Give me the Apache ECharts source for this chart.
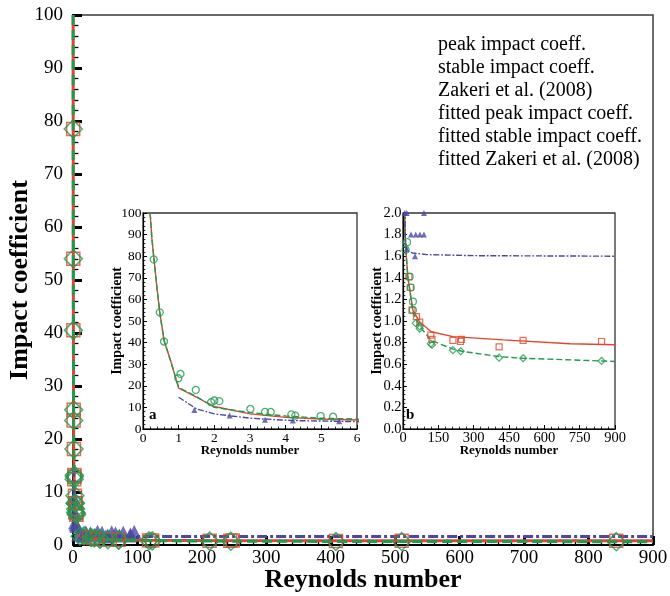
<!DOCTYPE html>
<html>
<head>
<meta charset="utf-8">
<script src="https://cdn.jsdelivr.net/npm/echarts@6/dist/echarts.min.js"></script>
<style>
  html, body { margin: 0; padding: 0; background: #fff; }
  #chart { width: 670px; height: 596px; }
</style>
</head>
<body>
<div id="chart"></div>
<script>
// low Reynolds number measurements (peak and stable coincide here)
var lowRe = [0.3, 0.47, 0.59, 0.99, 1.05, 1.48, 1.91, 2.0, 2.14, 3.01, 3.42, 3.58, 4.16, 4.27, 4.98, 5.33];
var lowCoeff = [78.5, 54, 40.5, 23.5, 25.5, 18.1, 12.4, 13.2, 12.9, 9.3, 7.9, 7.9, 6.8, 6.2, 6.0, 5.7];

var peakRe = [25, 31, 38, 57, 71, 118, 123, 212, 244, 248, 408, 510, 843];
var peakCoeff = [1.41, 1.31, 1.10, 1.04, 0.99, 0.87, 0.83, 0.82, 0.81, 0.83, 0.76, 0.82, 0.81];

var stableRe = [11, 17, 28, 33, 42, 42, 54, 71, 71, 118, 123, 212, 245, 408, 510, 843];
var stableCoeff = [1.66, 1.73, 1.41, 1.31, 1.18, 1.10, 0.98, 0.95, 0.93, 0.79, 0.78, 0.73, 0.72, 0.66, 0.655, 0.63];

var zakRe = [1.44, 2.43, 3.42, 4.2, 5.5, 8, 16, 89, 34, 54, 72, 89, 51, 16,
  20, 27, 38, 45, 60, 66, 78, 95];
var zakCoeff = [8.8, 6.2, 4.3, 3.9, 3.6, 2.0, 2.0, 2.0, 1.8, 1.8, 1.8, 1.8, 1.6, 1.67,
  2.4, 2.2, 2.5, 2.3, 2.4, 2.2, 2.3, 2.5];

var peakFitRe = [0.2, 0.25, 0.3, 0.4, 0.47, 0.59, 0.77, 1.0, 1.5, 2.0, 3.0, 4.0, 5.0, 6.0, 7, 8.5, 14, 21, 28, 42, 71, 120, 212, 425, 709, 900];
var peakFitVal = [100, 88, 80, 64, 54, 41, 31.8, 18.9, 14.7, 10.4, 7.0, 5.4, 4.6, 4.2, 2.0, 1.81, 1.6, 1.4, 1.3, 1.1, 0.99, 0.90, 0.855, 0.825, 0.79, 0.78];

var stableFitRe = [0.2, 0.25, 0.3, 0.4, 0.47, 0.59, 0.77, 1.0, 1.5, 2.0, 3.0, 4.0, 5.0, 6.0, 7, 8.5, 14, 21, 28, 42, 71, 120, 212, 250, 408, 510, 843, 900];
var stableFitVal = [100, 88, 80, 64, 54, 41, 31.8, 19.2, 15.0, 10.0, 7.6, 6.0, 5.0, 4.6, 2.0, 1.81, 1.6, 1.4, 1.3, 1.08, 0.95, 0.82, 0.74, 0.72, 0.67, 0.655, 0.63, 0.625];

var zakFitRe = [1.0, 1.5, 2.0, 3.0, 4.2, 6.0, 8, 10, 17, 40, 100, 300, 900];
var zakFitVal = [14.7, 9.3, 7.0, 5.0, 3.9, 3.4, 2.0, 1.75, 1.65, 1.63, 1.615, 1.605, 1.60];

var legendNames = ['peak impact coeff.', 'stable impact coeff.', 'Zakeri et al. (2008)',
  'fitted peak impact coeff.', 'fitted stable impact coeff.', 'fitted Zakeri et al. (2008)'];

var RED = '#e0462c';
var GREEN = '#1f9a50';
var BLUE = '#4a48a2';
var FONT = 'Liberation Serif';

function pairs(xs, ys) {
  return xs.map(function (x, i) { return [x, ys[i]]; });
}

var chartDom = document.getElementById('chart');
var myChart = echarts.init(chartDom);

function axisBase(grid, min, max, interval, fontSize, margin, tickLen, tickW, name, nameSize, nameGap) {
  return {
    type: 'value',
    gridIndex: grid,
    min: min,
    max: max,
    interval: interval,
    splitLine: { show: false },
    axisLine: { show: true, onZero: false, lineStyle: { color: '#000', width: tickW > 2 ? 2 : 1.2 } },
    axisTick: { show: true, inside: true, length: tickLen, lineStyle: { color: '#000', width: tickW } },
    minorTick: { show: true, splitNumber: 5, length: tickLen * 0.6, lineStyle: { color: '#000', width: tickW > 2 ? 1.3 : 0.8 } },
    axisLabel: { color: '#000', fontFamily: FONT, fontSize: fontSize, margin: margin, hideOverlap: false },
    name: name,
    nameLocation: 'middle',
    nameGap: nameGap,
    nameMoveOverlap: false,
    nameTextStyle: { color: '#000', fontFamily: FONT, fontWeight: 'bold', fontSize: nameSize }
  };
}

var fitStyles = [
  { name: legendNames[3], xs: peakFitRe, ys: peakFitVal, color: RED, type: 'solid' },
  { name: legendNames[4], xs: stableFitRe, ys: stableFitVal, color: GREEN, type: [10, 5] },
  { name: legendNames[5], xs: zakFitRe, ys: zakFitVal, color: BLUE, type: [10, 3, 3, 3] }
];

var series = [];

// main panel
fitStyles.forEach(function (f) {
  series.push({
    name: f.name, type: 'line', xAxisIndex: 0, yAxisIndex: 0,
    data: pairs(f.xs, f.ys), symbol: 'none', z: 3,
    lineStyle: { color: f.color, width: 3, type: f.type }
  });
});
series.push({
  name: legendNames[2], type: 'scatter', xAxisIndex: 0, yAxisIndex: 0,
  data: pairs(zakRe, zakCoeff), symbol: 'triangle', symbolSize: 14,
  itemStyle: { color: BLUE }, z: 2
});
series.push({
  name: legendNames[0], type: 'scatter', xAxisIndex: 0, yAxisIndex: 0,
  data: pairs(lowRe, lowCoeff).concat(pairs(peakRe, peakCoeff)), symbol: 'rect', symbolSize: 13,
  itemStyle: { color: 'rgba(0,0,0,0)', borderColor: RED, borderWidth: 1.5 }, z: 4
});
series.push({
  name: legendNames[1], type: 'scatter', xAxisIndex: 0, yAxisIndex: 0,
  data: pairs(lowRe, lowCoeff).concat(pairs(stableRe, stableCoeff)), symbol: 'diamond', symbolSize: 18,
  itemStyle: { color: 'rgba(0,0,0,0)', borderColor: GREEN, borderWidth: 1.5 }, z: 5
});

// insets a (grid 1) and b (grid 2)
[1, 2].forEach(function (g) {
  fitStyles.forEach(function (f) {
    series.push({
      name: f.name, type: 'line', xAxisIndex: g, yAxisIndex: g,
      data: pairs(f.xs, f.ys), symbol: 'none', z: 3,
      lineStyle: { color: f.color, width: 1.4, type: f.type === 'solid' ? 'solid' : f.type.map(function (v) { return v * 0.6; }) }
    });
  });
  series.push({
    name: legendNames[2], type: 'scatter', xAxisIndex: g, yAxisIndex: g,
    data: pairs(zakRe, zakCoeff), symbol: 'triangle', symbolSize: 6,
    itemStyle: { color: BLUE }, z: 4
  });
});
series.push({
  name: legendNames[1], type: 'scatter', xAxisIndex: 1, yAxisIndex: 1,
  data: pairs(lowRe, lowCoeff), symbol: 'circle', symbolSize: 7,
  itemStyle: { color: 'rgba(0,0,0,0)', borderColor: GREEN, borderWidth: 1.3 }, z: 5
});
series.push({
  name: legendNames[0], type: 'scatter', xAxisIndex: 2, yAxisIndex: 2,
  data: pairs(peakRe, peakCoeff), symbol: 'rect', symbolSize: 6,
  itemStyle: { color: 'rgba(0,0,0,0)', borderColor: RED, borderWidth: 1.2 }, z: 4
});
series.push({
  name: legendNames[1], type: 'scatter', xAxisIndex: 2, yAxisIndex: 2,
  data: stableRe.map(function (x, i) {
    return { value: [x, stableCoeff[i]], symbol: x < 50 ? 'circle' : 'diamond' };
  }), symbolSize: 7,
  itemStyle: { color: 'rgba(0,0,0,0)', borderColor: GREEN, borderWidth: 1.2 }, z: 5
});

var option = {
  animation: false,
  backgroundColor: '#fff',
  legend: {
    orient: 'vertical', left: 428, top: 28,
    itemWidth: 0, itemHeight: 0, itemGap: 0, icon: 'none',
    selectedMode: false,
    textStyle: { color: '#000', fontFamily: FONT, fontSize: 20, lineHeight: 23 },
    data: legendNames
  },
  grid: [
    { left: 73, top: 15, width: 580, height: 530, outerBoundsMode: 'none', containLabel: false, show: true, borderColor: '#3a3a3a', borderWidth: 1.5, backgroundColor: 'rgba(0,0,0,0)' },
    { left: 143, top: 213, width: 214, height: 216, outerBoundsMode: 'none', containLabel: false, show: true, borderColor: '#333', borderWidth: 1.3, backgroundColor: '#fff' },
    { left: 403, top: 213, width: 212, height: 216, outerBoundsMode: 'none', containLabel: false, show: true, borderColor: '#333', borderWidth: 1.3, backgroundColor: '#fff' }
  ],
  xAxis: [
    axisBase(0, 0, 900, 100, 19, 4, 9, 3, 'Reynolds number', 26, 22),
    axisBase(1, 0, 6, 1, 13.5, 2, 4, 1, 'Reynolds number', 13, 15),
    axisBase(2, 0, 900, 150, 14.5, 2, 4, 1, 'Reynolds number', 13, 15)
  ],
  yAxis: [
    axisBase(0, 0, 100, 10, 19, 10, 9, 3, 'Impact coefficient', 26, 40),
    axisBase(1, 0, 100, 10, 13.5, 1.5, 4, 1, 'Impact coefficient', 14, 19),
    axisBase(2, 0, 2, 0.2, 14.5, 1.5, 4, 1, 'Impact coefficient', 14, 19)
  ],
  graphic: [
    { type: 'text', left: 149, top: 408, z: 100, style: { text: 'a', font: 'bold 15px "Liberation Serif"', fill: '#000' } },
    { type: 'text', left: 406, top: 408, z: 100, style: { text: 'b', font: 'bold 15px "Liberation Serif"', fill: '#000' } }
  ],
  series: series
};
option.yAxis[2].axisLabel.formatter = function (v) { return v.toFixed(1); };

option && myChart.setOption(option);
</script>
</body>
</html>
